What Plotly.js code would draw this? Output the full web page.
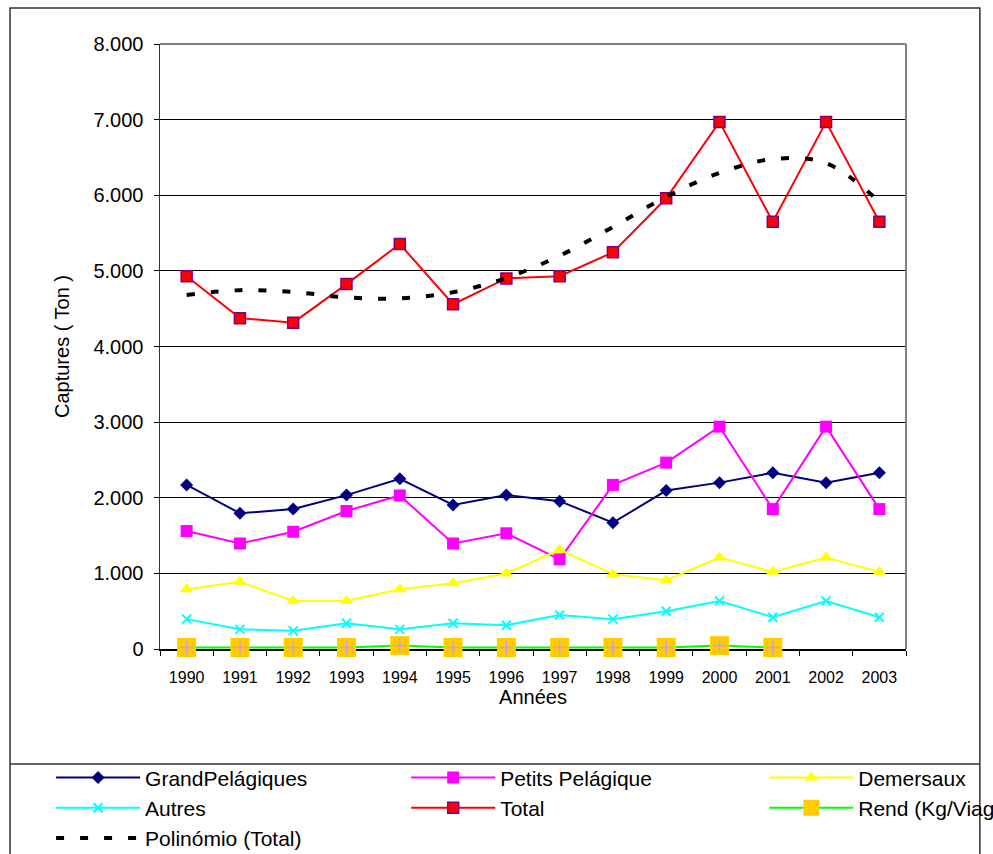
<!DOCTYPE html>
<html><head><meta charset="utf-8">
<script src="https://cdn.plot.ly/plotly-3.0.1.min.js"></script>
<style>html,body{margin:0;padding:0;background:#fff}#chart{width:993px;height:854px}</style>
</head><body><div id="chart"></div>
<script>
const years = ['1990','1991','1992','1993','1994','1995','1996','1997','1998','1999','2000','2001','2002','2003'];
const grandPelagiques = [2170,1795,1850,2035,2250,1905,2035,1955,1670,2095,2200,2330,2200,2330];
const petitsPelagique = [1560,1395,1550,1825,2030,1395,1530,1185,2170,2465,2940,1850,2940,1850];
const demersaux = [790,890,635,635,790,870,1000,1310,990,910,1210,1020,1210,1020];
const autres = [395,260,240,340,260,340,315,450,395,500,635,420,635,420];
const total = [4930,4375,4315,4825,5355,4560,4900,4930,5245,5960,6970,5650,6970,5650];
const rendYears = ['1990','1991','1992','1993','1994','1995','1996','1997','1998','1999','2000','2001'];
const rend = [20,20,20,20,45,20,20,20,20,20,45,20];
const polyTotal = [4680,4745,4720,4650,4637,4717,4906,5200,5580,5980,6294,6479,6426,5911];

const FONT = 'Liberation Sans, Arial, sans-serif';

const traces = [
  {x: years, y: grandPelagiques, name: 'GrandPelágiques', mode: 'lines+markers', legend: 'legend',
   line: {color: '#000080', width: 2}, marker: {symbol: 'diamond', size: 10, color: '#000080'}},
  {x: years, y: petitsPelagique, name: 'Petits Pelágique', mode: 'lines+markers', legend: 'legend2',
   line: {color: '#FF00FF', width: 2}, marker: {symbol: 'square', size: 12, color: '#FF00FF'}},
  {x: years, y: demersaux, name: 'Demersaux', mode: 'lines+markers', legend: 'legend3',
   line: {color: '#FFFF00', width: 2}, marker: {symbol: 'triangle-up', size: 12, color: '#FFFF00'}},
  {x: years, y: autres, name: 'Autres', mode: 'lines+markers', legend: 'legend',
   line: {color: '#00FFFF', width: 2}, marker: {symbol: 'x-thin-open', size: 9, color: '#00FFFF', line: {color: '#00FFFF', width: 2}}},
  {x: years, y: total, name: 'Total', mode: 'lines+markers', legend: 'legend2',
   line: {color: '#FF0000', width: 2}, marker: {symbol: 'square', size: 11, color: '#FF0000', line: {color: '#800080', width: 1.5}}},
  {x: rendYears, y: rend, name: 'Rend (Kg/Viag', mode: 'lines+markers', legend: 'legend3', cliponaxis: false,
   line: {color: '#00FF00', width: 2}, marker: {symbol: 'square', size: 19, color: '#FFCC00'}},
  {x: rendYears, y: rend, name: 'Rend (Kg/Viag', mode: 'markers', showlegend: false, cliponaxis: false, hoverinfo: 'skip',
   marker: {symbol: 'cross-thin-open', size: 10, color: '#CC99FF', line: {color: '#CC99FF', width: 1.5}}},
  {x: years, y: polyTotal, name: 'Polinómio (Total)', mode: 'lines', legend: 'legend',
   line: {color: '#000000', width: 4, dash: '8px,16px', shape: 'spline'}}
];

const legendBase = {font: {family: FONT, size: 21, color: '#000'}, bgcolor: 'rgba(0,0,0,0)', xanchor: 'left', yanchor: 'top',
  y: -0.179, tracegroupgap: 0, itemwidth: 84, orientation: 'v'};

const layout = {
  width: 993, height: 854,
  margin: {l: 160, r: 87, t: 44, b: 205, autoexpand: false},
  paper_bgcolor: '#fff', plot_bgcolor: '#fff',
  font: {family: FONT, color: '#000'},
  separators: ',.',
  showlegend: true,
  legend: Object.assign({}, legendBase, {x: -0.146}),
  legend2: Object.assign({}, legendBase, {x: 0.330}),
  legend3: Object.assign({}, legendBase, {x: 0.810}),
  xaxis: {type: 'category', range: [-0.5, 13.5], tickson: 'boundaries', ticks: 'outside', ticklen: 5, tickcolor: '#000',
    showline: true, linecolor: '#000', linewidth: 1.5, showgrid: false, layer: 'below traces', automargin: false,
    tickfont: {family: FONT, size: 16}, ticklabelstandoff: 13,
    title: {text: 'Années', font: {family: FONT, size: 20}, standoff: 0}},
  yaxis: {range: [0, 8000], dtick: 1000, tickformat: ',d', ticks: 'outside', ticklen: 5, tickcolor: '#000',
    showline: true, linecolor: '#333', linewidth: 1.5, gridcolor: '#000', gridwidth: 1, zeroline: false, automargin: false,
    tickfont: {family: FONT, size: 20}, ticklabelstandoff: 6,
    title: {text: 'Captures ( Ton )', font: {family: FONT, size: 20}, standoff: 18}},
  shapes: [
    {type: 'line', xref: 'paper', yref: 'paper', x0: 0, x1: 1, y0: 1, y1: 1, line: {color: '#808080', width: 2}},
    {type: 'line', xref: 'paper', yref: 'paper', x0: 1, x1: 1, y0: 0, y1: 1, line: {color: '#808080', width: 2}},
    {type: 'rect', xref: 'paper', yref: 'paper', x0: -0.201, x1: 1.099, y0: -0.37, y1: 1.0595, line: {color: '#333', width: 1.5}, fillcolor: 'rgba(0,0,0,0)'},
    {type: 'line', xref: 'paper', yref: 'paper', x0: -0.201, x1: 1.099, y0: -0.190, y1: -0.190, line: {color: '#333', width: 1.5}}
  ]
};

Plotly.newPlot('chart', traces, layout, {displayModeBar: false, staticPlot: true});
</script>
</body></html>
